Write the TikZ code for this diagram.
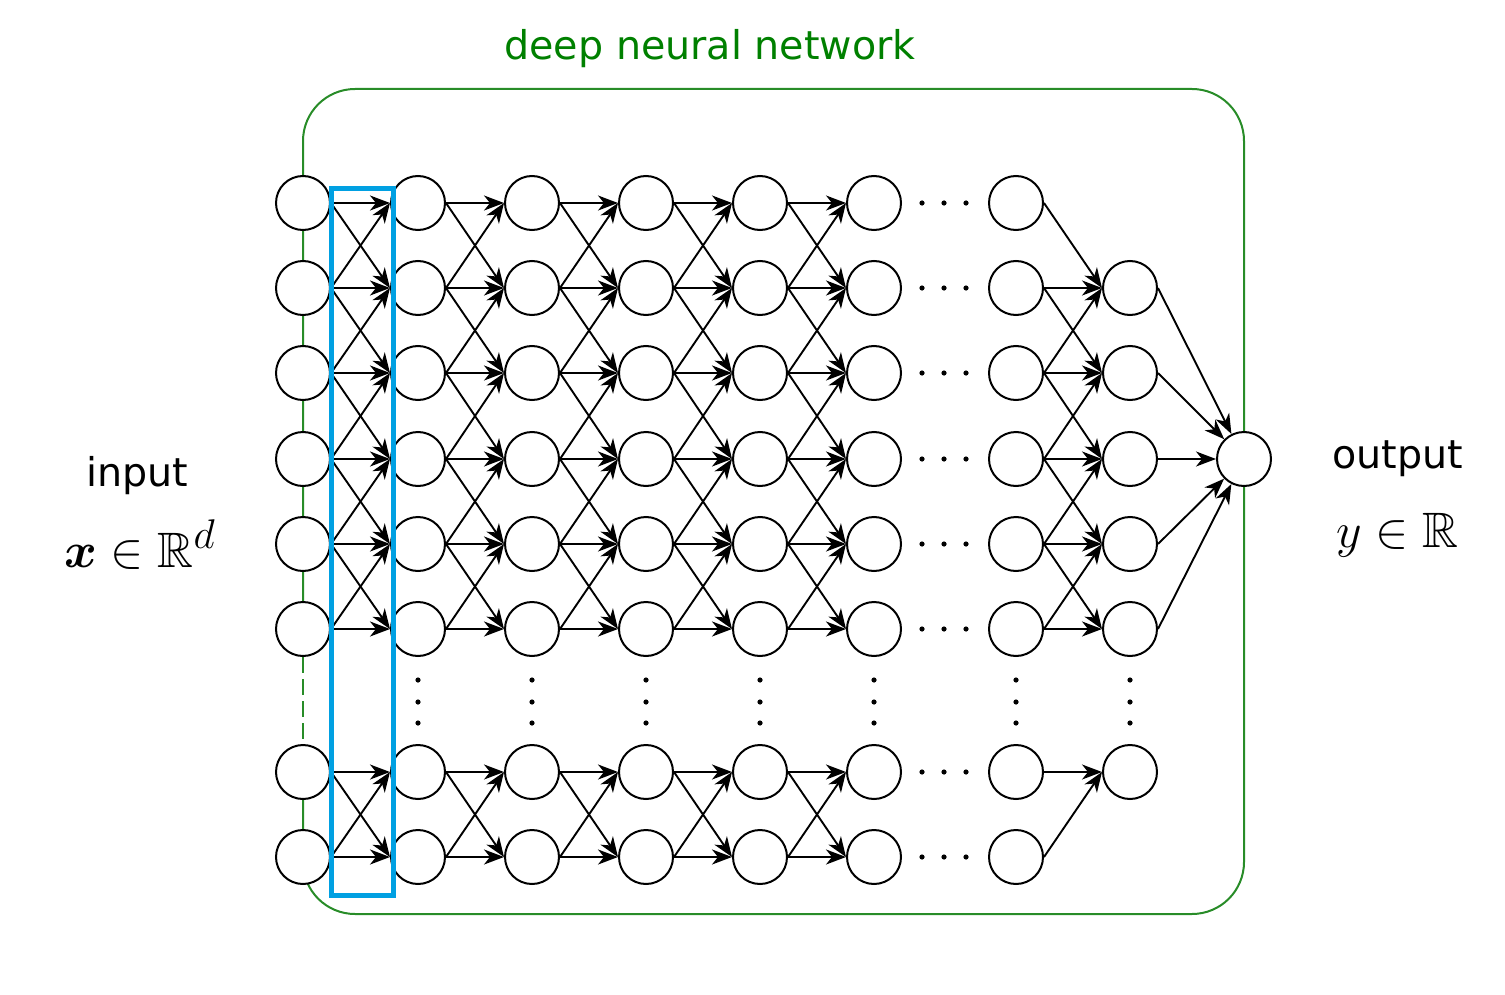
\documentclass[tikz,border=0pt]{standalone}
\usepackage{amsmath,amssymb}
\usepackage{fontspec}
\setsansfont{DejaVu Sans}
\usetikzlibrary{arrows.meta}
\definecolor{boxgreen}{RGB}{40,140,40}
\definecolor{txtgreen}{RGB}{0,128,0}
\definecolor{hlblue}{RGB}{0,160,226}
\begin{document}
\begin{tikzpicture}[x=0.5pt,y=-0.5pt,
  neuron/.style={circle,draw,fill=white,line width=1pt,minimum size=27pt,inner sep=0pt},
  conn/.style={-{Stealth[length=10pt,width=7.5pt,inset=3pt]},line width=0.95pt},
  lbl/.style={font=\sffamily\fontsize{19.8}{23}\selectfont,anchor=base,inner sep=0pt},
  mth/.style={font=\Huge,anchor=base,inner sep=0pt},
  boxline/.style={draw=boxgreen,line width=1pt}]
\useasboundingbox (0,0) rectangle (1505,995);
% green frame
\draw[boxline,rounded corners=26pt] (303,657) -- (303,89) -- (1244,89) -- (1244,914) -- (303,914) -- (303,744);
\draw[boxline,dash pattern=on 8pt off 3pt] (303,657) -- (303,744);
% neurons
\foreach \c/\x in {0/303,1/418,2/532,3/646,4/760,5/874,6/1016}{
  \foreach \r/\y in {0/203,1/288,2/373,3/459,4/544,5/629,6/772,7/857}
    \node[neuron] (n\c-\r) at (\x,\y) {};
}
\foreach \r/\y in {1/288,2/373,3/459,4/544,5/629,6/772}
  \node[neuron] (n7-\r) at (1130,\y) {};
\node[neuron] (out) at (1244,459) {};
% connections between full layers
\foreach \c in {0,...,4}{
  \pgfmathtruncatemacro{\d}{\c+1}
  \foreach \r in {0,...,5}
    \draw[conn] (n\c-\r.east) -- (n\d-\r.west);
  \foreach \r in {0,...,4}{
    \pgfmathtruncatemacro{\s}{\r+1}
    \draw[conn] (n\c-\r.east) -- (n\d-\s.west);
    \draw[conn] (n\c-\s.east) -- (n\d-\r.west);
  }
  \draw[conn] (n\c-6.east) -- (n\d-6.west);
  \draw[conn] (n\c-7.east) -- (n\d-7.west);
  \draw[conn] (n\c-6.east) -- (n\d-7.west);
  \draw[conn] (n\c-7.east) -- (n\d-6.west);
}
% last hidden layer
\draw[conn] (n6-0.east) -- (n7-1.west);
\foreach \r in {1,...,5}
  \draw[conn] (n6-\r.east) -- (n7-\r.west);
\foreach \r in {1,...,4}{
  \pgfmathtruncatemacro{\s}{\r+1}
  \draw[conn] (n6-\r.east) -- (n7-\s.west);
  \draw[conn] (n6-\s.east) -- (n7-\r.west);
}
\draw[conn] (n6-6.east) -- (n7-6.west);
\draw[conn] (n6-7.east) -- (n7-6.west);
% output
\foreach \r in {1,...,5}
  \draw[conn] (n7-\r.east) -- (out);
% dots
\foreach \y in {203,288,373,459,544,629,772,857}
  \foreach \x in {922,944,966}
    \fill (\x,\y) circle (1.3pt);
\foreach \x in {418,532,646,760,874,1016,1130}
  \foreach \y in {680,702,723}
    \fill (\x,\y) circle (1.3pt);
% labels
\node[lbl,text=txtgreen] (title) at (710,60) {deep neural network};
\node[lbl] (inlbl) at (137.5,486) {input};
\node[mth] (inmath) at (140,567) {$\boldsymbol{x}\in\mathbb{R}^d$};
\node[lbl] (outlbl) at (1397.5,468) {output};
\node[mth] (outmath) at (1397.5,547) {$y\in\mathbb{R}$};
% highlight
\draw[hlblue,line width=2.5pt] (331.5,188) rectangle (393.5,895.5);
\end{tikzpicture}
\end{document}
